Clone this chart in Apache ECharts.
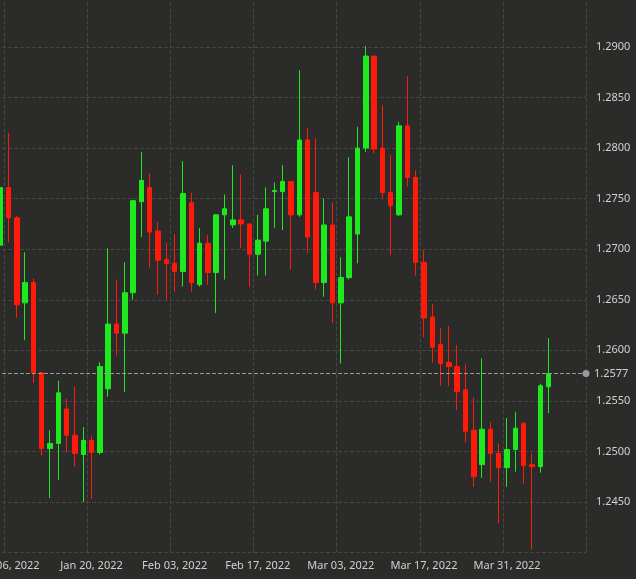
<!DOCTYPE html>
<html><head><meta charset="utf-8">
<script src="https://cdn.jsdelivr.net/npm/echarts@6/dist/echarts.min.js"></script>
<style>html,body{margin:0;padding:0;background:#2b2c2a}#c{width:636px;height:579px}</style>
</head><body><div id="c"></div>
<script>
const opens  = [1.2704,1.2761,1.2731,1.2647,1.2667,1.2578,1.2503,1.2508,1.2542,1.2516,1.2497,1.2511,1.2499,1.2562,1.2626,1.2617,1.2657,1.2747,1.2761,1.2718,1.2690,1.2686,1.2678,1.2746,1.2665,1.2706,1.2677,1.2734,1.2724,1.2729,1.2725,1.2695,1.2708,1.2757,1.2757,1.2767,1.2734,1.2808,1.2756,1.2667,1.2724,1.2647,1.2672,1.2715,1.2800,1.2891,1.2800,1.2756,1.2734,1.2822,1.2771,1.2687,1.2633,1.2606,1.2588,1.2584,1.2561,1.2521,1.2487,1.2522,1.2498,1.2484,1.2502,1.2528,1.2487,1.2485,1.2564];
const closes = [1.2761,1.2731,1.2645,1.2667,1.2578,1.2503,1.2508,1.2558,1.2516,1.2498,1.2511,1.2499,1.2584,1.2626,1.2617,1.2657,1.2748,1.2768,1.2717,1.2689,1.2686,1.2678,1.2755,1.2667,1.2706,1.2677,1.2734,1.2740,1.2729,1.2725,1.2695,1.2709,1.2740,1.2758,1.2767,1.2734,1.2808,1.2712,1.2667,1.2724,1.2647,1.2672,1.2732,1.2800,1.2891,1.2799,1.2756,1.2743,1.2822,1.2771,1.2687,1.2632,1.2603,1.2587,1.2584,1.2559,1.2520,1.2475,1.2522,1.2498,1.2484,1.2502,1.2523,1.2486,1.2485,1.2565,1.2577];
const lows   = [1.2700,1.2707,1.2632,1.2610,1.2568,1.2496,1.2454,1.2472,1.2499,1.2485,1.2450,1.2453,1.2497,1.2554,1.2595,1.2559,1.2650,1.2712,1.2682,1.2655,1.2650,1.2658,1.2663,1.2658,1.2663,1.2665,1.2637,1.2670,1.2721,1.2701,1.2663,1.2674,1.2674,1.2721,1.2719,1.2680,1.2732,1.2696,1.2660,1.2653,1.2627,1.2587,1.2670,1.2686,1.2796,1.2795,1.2751,1.2694,1.2733,1.2762,1.2674,1.2613,1.2588,1.2565,1.2565,1.2541,1.2509,1.2465,1.2474,1.2470,1.2429,1.2465,1.2480,1.2468,1.2403,1.2479,1.2538];
const highs  = [1.2765,1.2815,1.2733,1.2697,1.2671,1.2578,1.2521,1.2570,1.2552,1.2564,1.2524,1.2515,1.2588,1.2701,1.2670,1.2687,1.2749,1.2796,1.2775,1.2727,1.2706,1.2715,1.2787,1.2756,1.2721,1.2714,1.2735,1.2754,1.2783,1.2774,1.2725,1.2734,1.2761,1.2766,1.2783,1.2767,1.2877,1.2820,1.2810,1.2750,1.2746,1.2692,1.2791,1.2821,1.2901,1.2891,1.2842,1.2793,1.2826,1.2871,1.2778,1.2699,1.2646,1.2622,1.2624,1.2605,1.2586,1.2553,1.2592,1.2529,1.2508,1.2533,1.2539,1.2528,1.2498,1.2567,1.2612];
const lastPrice = 1.2577;
const startDate = '2022-01-05';
const totalDays = 71;

const months=['Jan','Feb','Mar','Apr','May','Jun','Jul','Aug','Sep','Oct','Nov','Dec'];
const dates=[];
let d=new Date(startDate+'T12:00:00Z');
while(dates.length<totalDays){
  const wd=d.getUTCDay();
  if(wd!==0&&wd!==6){dates.push(months[d.getUTCMonth()]+' '+String(d.getUTCDate()).padStart(2,'0')+', '+d.getUTCFullYear());}
  d.setUTCDate(d.getUTCDate()+1);
}
const ohlc=opens.map((o,i)=>[o,closes[i],lows[i],highs[i]]);
const showIdx=(i)=>(i-1)%10===0;
const chart=echarts.init(document.getElementById('c'));
chart.setOption({
  backgroundColor:'#2b2c2a',
  animation:false,
  grid:{left:-4,right:50,top:-3.6,bottom:26.4,containLabel:false,outerBoundsMode:'none'},
  xAxis:{type:'category',data:dates,boundaryGap:true,
    axisLine:{show:false},axisTick:{show:false},
    axisLabel:{interval:showIdx,color:'#d0d0d0',fontSize:11,fontFamily:'Noto Sans',margin:8,hideOverlap:false},
    splitLine:{show:true,interval:showIdx,lineStyle:{color:'#454644',type:'dashed'}}},
  yAxis:{type:'value',position:'right',min:1.2400,max:1.2950,interval:0.005,
    axisLine:{show:false},axisTick:{show:false},
    axisLabel:{color:'#d0d0d0',fontSize:11,fontFamily:'Noto Sans',margin:10,
      formatter:v=>(v<1.2449||v>1.2901)?'':v.toFixed(4)},
    splitLine:{lineStyle:{color:'#454644',type:'dashed'}}},
  series:[{type:'candlestick',data:ohlc,barWidth:5,
    itemStyle:{color:'#1ee81e',color0:'#ff1a0a',borderColor:'#1ee81e',borderColor0:'#ff1a0a',borderWidth:1},
    markLine:{silent:true,precision:4,symbol:['none','circle'],symbolSize:7,
      lineStyle:{color:'#9a9a9a',type:'dashed',width:1},
      label:{position:'end',color:'#d0d0d0',fontSize:11,fontFamily:'Noto Sans',formatter:()=>lastPrice.toFixed(4),distance:8},
      data:[{yAxis:lastPrice}]}}]
});
</script></body></html>
